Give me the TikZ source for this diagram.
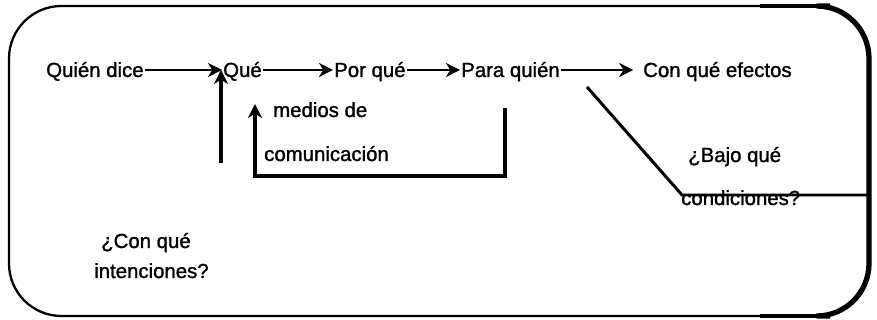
\documentclass[tikz,border=0pt]{standalone}
\usepackage{fontspec}
\setmainfont{Liberation Sans}[BoldFont={Liberation Sans},BoldFeatures={FakeBold=1.3}]
\usetikzlibrary{arrows.meta,positioning}

\begin{document}
\begin{tikzpicture}[x=0.02cm,y=-0.02cm,
  word/.style={anchor=base west,inner sep=0.5pt,text height=10pt,text depth=2pt,
    font=\fontsize{11.6}{14}\selectfont\bfseries},
  arr/.style={line width=1.3pt,-{Stealth[length=8pt,width=8pt,inset=2.5pt]}},
  fatarr/.style={line width=1.9pt,-{Stealth[length=8pt,width=8pt,inset=2.5pt]}},
  rule/.style={line width=1.7pt}]
\useasboundingbox (0,0) rectangle (877,320);

% marco
\draw[line width=1.3pt,rounded corners=1.05cm] (9,160) -- (9,6) -- (869,6) -- (869,316) -- (9,316) -- cycle;
\draw[line width=2.2pt,rounded corners=1.05cm] (760,6) -- (869,6) -- (869,316) -- (760,316);
\draw[line width=3pt,rounded corners=1.05cm] (830,6) -- (869,6) -- (869,316) -- (830,316);

\node[word] (quien)   at (45,77)  {Quién dice};
\node[word] (que)     at (222,77) {Qué};
\node[word] (porque)  at (333,77) {Por qué};
\node[word] (para)    at (460,77) {Para quién};
\node[word] (efectos) at (642,77) {Con qué efectos};
\node[word] (medios)  at (272,117) {medios de};
\node[word] (comun)   at (263,161) {comunicación};
\node[word] (bajo)    at (687,162) {¿Bajo qué};
\node[word] (condic)  at (680,205) {condiciones?};
\node[word] (conque)  at (100,248) {¿Con qué};
\node[word] (intenc)  at (93,278)  {intenciones?};

\coordinate (qfoot) at (221,163);
\coordinate (bx1) at (505,108);
\coordinate (bx2) at (505,176);
\coordinate (bx3) at (255,176);
\coordinate (medtip) at (255,104);
\coordinate (dg1) at (587,87);
\coordinate (dg2) at (682,195);
\coordinate (dg3) at (868,195);

\draw[arr] (quien) -- (que);
\draw[arr] (que) -- (porque);
\draw[arr] (porque) -- (para);
\draw[arr,shorten >=5pt] (para) -- (efectos);
\draw[fatarr] (qfoot) -- (qfoot |- que.west);
\draw[fatarr,line join=miter] (bx1) -- (bx2) -- (bx3) -- (medtip);
\draw[rule] (dg1) -- (dg2) -- (dg3);
\end{tikzpicture}
\end{document}
